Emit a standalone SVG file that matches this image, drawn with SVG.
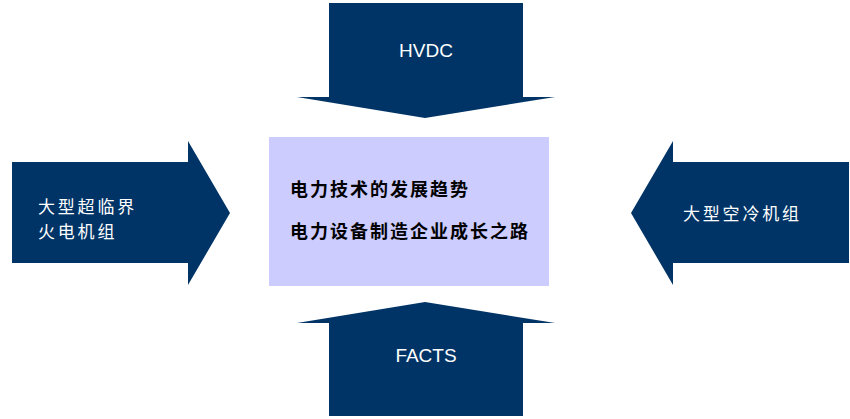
<svg xmlns="http://www.w3.org/2000/svg" width="850" height="419" viewBox="0 0 850 419">
<style>
.arr{fill:#003466;}
.lat{font-family:"Liberation Sans",Arial,sans-serif;font-size:19px;fill:#ffffff;text-anchor:middle;}
.cjk{font-family:"Noto Sans CJK SC","Noto Sans CJK TC",sans-serif;font-size:17px;fill:#ffffff;letter-spacing:2.8px;}
.ctr{font-family:"Noto Sans CJK SC","Noto Sans CJK TC",sans-serif;font-size:18px;font-weight:bold;fill:#000000;letter-spacing:2px;}
</style>
<rect width="850" height="419" fill="#ffffff"/>
<g id="hvdc">
<polygon class="arr" points="329,3 523,3 523,97 555,97 425,118 297,97 329,97"/>
<text class="lat" x="426" y="57">HVDC</text>
</g>
<g id="facts">
<polygon class="arr" points="425,302 555,323 523,323 523,416 329,416 329,323 297,323"/>
<text class="lat" x="426" y="362">FACTS</text>
</g>
<g id="left">
<polygon class="arr" points="12,162 188,162 188,141 230,213 188,285 188,263 12,263"/>
<text class="cjk" x="38" y="213">大型超临界</text>
<text class="cjk" x="38" y="238">火电机组</text>
</g>
<g id="right">
<polygon class="arr" points="849,162 673,162 673,141 631,213 673,285 673,263 849,263"/>
<text class="cjk" x="683" y="220">大型空冷机组</text>
</g>
<g id="center">
<rect x="269" y="137" width="280" height="149" fill="#ccccff"/>
<text class="ctr" x="290" y="196">电力技术的发展趋势</text>
<text class="ctr" x="290" y="238">电力设备制造企业成长之路</text>
</g>
<g id="connectors"></g>
</svg>
